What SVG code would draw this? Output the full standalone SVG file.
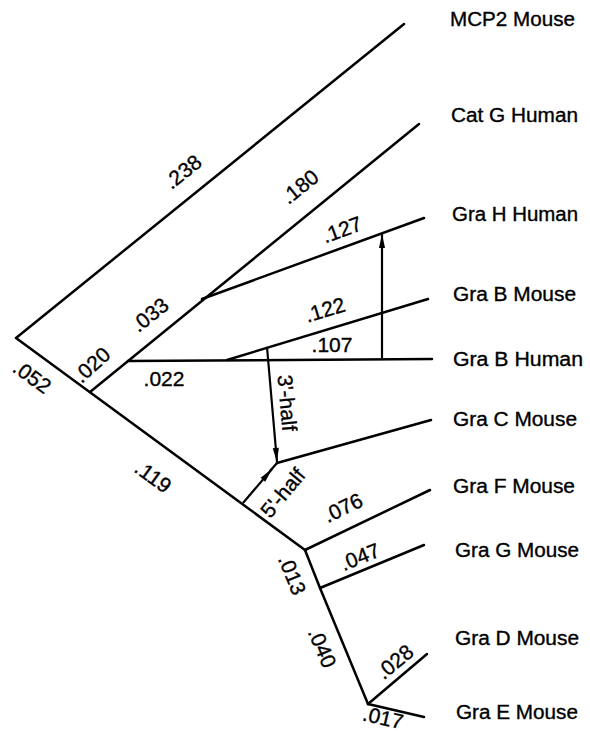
<svg xmlns="http://www.w3.org/2000/svg" width="590" height="732" viewBox="0 0 590 732">
<style>
  .br { stroke:#000; stroke-width:2.5; fill:none; stroke-linecap:round; stroke-linejoin:round; }
  .ar { stroke:#000; stroke-width:2.2; fill:none; }
  .lb { font-family:"Liberation Sans", Arial, sans-serif; font-size:20px; fill:#000; stroke:#000; stroke-width:0.35; }
  .n { font-family:"Liberation Sans", Arial, sans-serif; font-size:21px; fill:#000; stroke:#000; stroke-width:0.35; text-anchor:middle; }
</style>
<defs>
  <marker id="ah" viewBox="0 0 16 8" refX="16" refY="4" markerWidth="16" markerHeight="7" markerUnits="userSpaceOnUse" orient="auto">
    <path d="M0,0.5 L16,4 L0,7.5 Z" fill="#000"/>
  </marker>
</defs>
<rect width="590" height="732" fill="#fff"/>
<g id="connectors">
  <path class="br" d="M404,24 L16,338 L305,550"/>
  <path class="br" d="M90,392 L419,124"/>
  <path class="br" d="M202,299 L424,218"/>
  <path class="br" d="M128,361 L432,359"/>
  <path class="br" d="M227,360 L428,299"/>
  <path class="br" d="M277,463 L431,420"/>
  <path class="br" d="M305,550 L430,490"/>
  <path class="br" d="M305,550 L320,588 L368,704"/>
  <path class="br" d="M320,588 L424,545"/>
  <path class="br" d="M368,704 L427,654"/>
  <path class="br" d="M368,704 L424,717"/>
  <path class="ar" d="M382,358 L382,234" marker-end="url(#ah)"/>
  <path class="ar" d="M267,347 L277,462" marker-end="url(#ah)"/>
  <path class="ar" d="M243,503 L272,469" marker-end="url(#ah)"/>
  <path class="ar" d="M270,471 L277,463"/>
</g>
<g id="branch-labels">
  <text class="n" transform="translate(183,172) rotate(-39)" y="7">.238</text>
  <text class="n" transform="translate(300,187) rotate(-39)" y="7">.180</text>
  <text class="n" transform="translate(342,230) rotate(-20)" y="7">.127</text>
  <text class="n" transform="translate(150,315) rotate(-39)" y="7">.033</text>
  <text class="n" transform="translate(92,365) rotate(-42)" y="7">.020</text>
  <text class="n" transform="translate(32,377) rotate(36)" y="7">.052</text>
  <text class="n" transform="translate(164,379)" y="7">.022</text>
  <text class="n" transform="translate(325,310) rotate(-17)" y="7">.122</text>
  <text class="n" transform="translate(332,345)" y="7">.107</text>
  <text class="n" transform="translate(287,403) rotate(85)" y="7">3'-half</text>
  <text class="n" transform="translate(283,493) rotate(-50)" y="7">5'-half</text>
  <text class="n" transform="translate(153,477) rotate(36)" y="7">.119</text>
  <text class="n" transform="translate(343,508) rotate(-26)" y="7">.076</text>
  <text class="n" transform="translate(360,557) rotate(-22)" y="7">.047</text>
  <text class="n" transform="translate(292,575) rotate(68)" y="7">.013</text>
  <text class="n" transform="translate(322,648) rotate(67)" y="7">.040</text>
  <text class="n" transform="translate(395,662) rotate(-40)" y="7">.028</text>
  <text class="n" transform="translate(383,718) rotate(13)" y="7">.017</text>
</g>
<g id="node-mcp2-mouse"><text class="lb" x="450" y="26" textLength="125" lengthAdjust="spacingAndGlyphs">MCP2 Mouse</text></g>
<g id="node-catg-human"><text class="lb" x="451" y="122" textLength="127" lengthAdjust="spacingAndGlyphs">Cat G Human</text></g>
<g id="node-grah-human"><text class="lb" x="452" y="221" textLength="126" lengthAdjust="spacingAndGlyphs">Gra H Human</text></g>
<g id="node-grab-mouse"><text class="lb" x="453" y="301" textLength="123" lengthAdjust="spacingAndGlyphs">Gra B Mouse</text></g>
<g id="node-grab-human"><text class="lb" x="453" y="366" textLength="130" lengthAdjust="spacingAndGlyphs">Gra B Human</text></g>
<g id="node-grac-mouse"><text class="lb" x="453" y="426" textLength="124" lengthAdjust="spacingAndGlyphs">Gra C Mouse</text></g>
<g id="node-graf-mouse"><text class="lb" x="453" y="493" textLength="122" lengthAdjust="spacingAndGlyphs">Gra F Mouse</text></g>
<g id="node-grag-mouse"><text class="lb" x="455" y="557" textLength="124" lengthAdjust="spacingAndGlyphs">Gra G Mouse</text></g>
<g id="node-grad-mouse"><text class="lb" x="455" y="645" textLength="124" lengthAdjust="spacingAndGlyphs">Gra D Mouse</text></g>
<g id="node-grae-mouse"><text class="lb" x="456" y="719" textLength="122" lengthAdjust="spacingAndGlyphs">Gra E Mouse</text></g>
</svg>
